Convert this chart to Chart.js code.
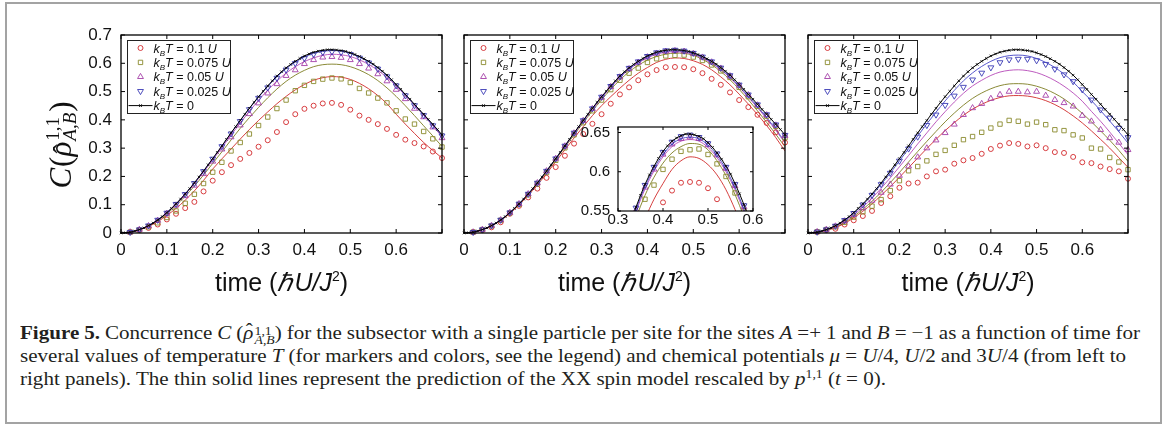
<!DOCTYPE html>
<html>
<head>
<meta charset="utf-8">
<script src="https://cdn.jsdelivr.net/npm/chart.js@4.4.0/dist/chart.umd.min.js"></script>
<style>
  html, body { margin: 0; padding: 0; background: #fff; }
  #page { position: relative; width: 1168px; height: 425px; overflow: hidden; background: #fff; }
  #frame { position: absolute; left: 5px; top: 2px; width: 1157px; height: 422px; box-sizing: border-box; border: 2px solid #a3a3a3; }
  canvas { position: absolute; }
  .cap { position: absolute; left: 20px; white-space: nowrap; font-family: "Liberation Serif", serif; font-size: 18.5px; line-height: 20px; color: #231f20; transform-origin: 0 50%; }
  .ss { display: inline-block; vertical-align: -5px; line-height: 9px; font-size: 12px; margin-left: 1px; }
  .ss span { display: block; }
  .hat { position: relative; display: inline-block; }
  .hat::after { content: 'ˆ'; position: absolute; left: 2px; top: -3px; font-style: normal; }
  sup { font-size: 12px; line-height: 0; }
</style>
</head>
<body>
<div id="page">
  <div id="frame"></div>
  <canvas id="p1" width="450" height="300" style="left:0px;top:0px"></canvas>
  <canvas id="p2" width="340" height="300" style="left:450px;top:0px"></canvas>
  <canvas id="p3" width="378" height="300" style="left:790px;top:0px"></canvas>
  <canvas id="inset" width="200" height="125" style="left:575px;top:110px"></canvas>

  <div class="cap" id="cap1" data-w="1120" style="top:323px"><b>Figure 5.</b> Concurrence <i>C</i> (<i class="hat">ρ</i><span class="ss"><span>1,1</span><span><i>A</i>,<i>B</i></span></span>) for the subsector with a single particle per site for the sites <i>A</i> =+ 1 and <i>B</i> = −1 as a function of time for</div>
  <div class="cap" id="cap2" data-w="1106" style="top:346px">several values of temperature <i>T</i> (for markers and colors, see the legend) and chemical potentials <i>μ</i> = <i>U</i>/4, <i>U</i>/2 and 3<i>U</i>/4 (from left to</div>
  <div class="cap" id="cap3" data-w="866" style="top:369px">right panels). The thin solid lines represent the prediction of the XX spin model rescaled by <i>p</i><sup>1,1</sup> (<i>t</i> = 0).</div>
</div>

<script>
// time of the simulation points (markers)
const times = [0.02, 0.04, 0.06, 0.08, 0.10, 0.12, 0.14, 0.16, 0.18, 0.20,
               0.22, 0.24, 0.26, 0.28, 0.30, 0.32, 0.34, 0.36, 0.38, 0.40,
               0.42, 0.44, 0.46, 0.48, 0.50, 0.52, 0.54, 0.56, 0.58, 0.60,
               0.62, 0.64, 0.66, 0.68, 0.70];
// time of the kBT = 0 curve
const zeroTimes = [0, 0.01, 0.02, 0.03, 0.04, 0.05, 0.06, 0.07, 0.08, 0.09,
                   0.10, 0.11, 0.12, 0.13, 0.14, 0.15, 0.16, 0.17, 0.18, 0.19,
                   0.20, 0.21, 0.22, 0.23, 0.24, 0.25, 0.26, 0.27, 0.28, 0.29,
                   0.30, 0.31, 0.32, 0.33, 0.34, 0.35, 0.36, 0.37, 0.38, 0.39,
                   0.40, 0.41, 0.42, 0.43, 0.44, 0.45, 0.46, 0.47, 0.48, 0.49,
                   0.50, 0.51, 0.52, 0.53, 0.54, 0.55, 0.56, 0.57, 0.58, 0.59,
                   0.60, 0.61, 0.62, 0.63, 0.64, 0.65, 0.66, 0.67, 0.68, 0.69,
                   0.70];
// model lines start at the origin
const fitTimes = [0].concat(times);

// kBT = 0 (same in all three panels)
const zeroT = [0, .001, .003, .007, .012, .018, .026, .035, .046, .058,
               .072, .087, .103, .12, .138, .157, .177, .198, .219, .241,
               .263, .285, .308, .331, .354, .376, .398, .42, .441, .462,
               .482, .501, .52, .538, .555, .57, .584, .596, .607, .617,
               .626, .633, .639, .643, .646, .648, .648, .647, .645, .642,
               .637, .631, .624, .616, .607, .597, .585, .572, .558, .542,
               .525, .508, .49, .473, .455, .437, .42, .402, .384, .366,
               .347];

// panel 1, mu = U/4
const p1Red = [.003, .01, .018, .03, .048, .068, .088, .11, .147, .185, .215, .24, .262, .283, .305, .328, .357, .392, .42, .439, .45, .458, .46, .453, .436, .415, .40, .385, .368, .347, .33, .318, .306, .288, .265];
const p1Olive = [.003, .011, .022, .036, .055, .078, .105, .137, .175, .215, .25, .29, .32, .35, .38, .41, .44, .47, .503, .522, .536, .544, .548, .545, .532, .511, .495, .477, .46, .432, .403, .385, .359, .333, .304];
const p1Purple = [.003, .012, .025, .044, .069, .098, .131, .168, .209, .253, .296, .339, .381, .421, .459, .494, .527, .556, .576, .598, .612, .621, .623, .62, .612, .598, .582, .562, .537, .507, .474, .44, .41, .374, .336];
const p1Blue = [.003, .012, .026, .046, .071, .102, .137, .176, .218, .262, .306, .351, .395, .437, .477, .514, .548, .577, .6, .618, .632, .639, .641, .639, .632, .619, .602, .58, .553, .521, .486, .451, .416, .38, .344];
const p1RedFit = [0, .003, .011, .023, .04, .062, .087, .116, .149, .186, .226, .262, .297, .332, .366, .398, .428, .457, .483, .506, .525, .54, .549, .553, .551, .543, .529, .51, .486, .457, .42, .385, .352, .32, .292, .265];
const p1OliveFit = [0, .003, .012, .025, .044, .068, .097, .13, .166, .205, .246, .287, .329, .37, .408, .444, .478, .509, .536, .558, .575, .588, .595, .597, .595, .588, .576, .56, .539, .513, .483, .45, .415, .379, .343, .306];
const p1PurpleFit = [0, .003, .012, .026, .045, .071, .101, .136, .174, .215, .258, .302, .346, .389, .43, .469, .505, .537, .565, .588, .606, .619, .628, .632, .63, .624, .612, .596, .575, .55, .52, .487, .452, .416, .379, .34];
const p1BlueFit = [0, .003, .012, .026, .046, .072, .103, .138, .177, .219, .263, .307, .353, .397, .44, .48, .518, .552, .581, .604, .622, .635, .642, .645, .643, .635, .622, .605, .583, .556, .523, .488, .453, .417, .381, .344];

// panel 2, mu = U/2
const p2Red = [.003, .01, .02, .038, .068, .096, .126, .157, .195, .233, .273, .316, .35, .386, .42, .457, .49, .515, .54, .561, .576, .586, .587, .586, .579, .565, .545, .524, .497, .47, .445, .418, .389, .356, .32];
const p2Olive = [.003, .012, .025, .045, .071, .101, .135, .173, .214, .257, .301, .347, .39, .432, .47, .507, .54, .565, .583, .603, .616, .626, .628, .629, .622, .61, .594, .573, .55, .515, .482, .448, .413, .377, .337];
const p2Purple = [.003, .012, .026, .046, .072, .103, .138, .177, .219, .263, .307, .353, .397, .439, .479, .517, .551, .58, .603, .622, .635, .642, .644, .642, .634, .621, .604, .582, .555, .522, .488, .452, .417, .381, .344];
const p2Blue = [.003, .012, .026, .046, .072, .103, .138, .177, .219, .263, .308, .354, .398, .44, .481, .519, .554, .583, .606, .625, .638, .645, .647, .644, .636, .623, .606, .584, .557, .524, .489, .454, .419, .383, .346];
const p2RedFit = [0, .003, .012, .025, .044, .069, .099, .133, .17, .21, .252, .294, .336, .376, .415, .45, .482, .512, .54, .565, .585, .603, .614, .619, .617, .609, .596, .577, .552, .524, .491, .456, .419, .38, .337, .29];
const p2OliveFit = [0, .003, .012, .026, .045, .071, .101, .136, .174, .215, .259, .303, .347, .39, .432, .471, .508, .541, .57, .593, .611, .624, .632, .636, .635, .628, .614, .595, .571, .542, .508, .471, .432, .391, .349, .305];
const p2PurpleFit = [0, .003, .012, .026, .046, .071, .102, .137, .176, .218, .262, .306, .351, .395, .437, .477, .515, .549, .578, .601, .619, .632, .639, .641, .639, .631, .618, .6, .577, .549, .516, .48, .443, .404, .363, .318];
const p2BlueFit = [0, .003, .012, .026, .046, .072, .103, .138, .177, .219, .263, .308, .353, .397, .44, .48, .518, .552, .581, .604, .622, .635, .642, .644, .642, .634, .621, .603, .58, .552, .519, .484, .447, .408, .367, .322];

// panel 3, mu = 3U/4
const p3Red = [.004, .01, .015, .03, .045, .06, .078, .106, .13, .16, .175, .178, .2, .218, .224, .245, .257, .265, .28, .297, .309, .318, .315, .306, .31, .3, .286, .283, .269, .25, .247, .235, .226, .218, .192];
const p3Olive = [.004, .012, .022, .038, .056, .075, .095, .118, .15, .185, .22, .235, .255, .278, .292, .31, .33, .341, .356, .371, .385, .398, .395, .385, .392, .383, .365, .362, .347, .336, .30, .297, .267, .251, .224];
const p3Purple = [.004, .012, .024, .042, .064, .088, .115, .143, .172, .203, .236, .268, .3, .328, .354, .384, .418, .442, .457, .475, .489, .5, .5, .498, .5, .486, .471, .46, .448, .415, .395, .365, .336, .32, .294];
const p3Blue = [.004, .012, .025, .045, .07, .1, .134, .172, .212, .255, .298, .34, .381, .418, .452, .485, .516, .542, .566, .585, .603, .613, .615, .615, .61, .597, .58, .56, .536, .507, .471, .436, .407, .371, .338];
const p3RedFit = [0, .002, .009, .019, .034, .054, .077, .103, .133, .164, .197, .231, .265, .299, .331, .362, .39, .416, .438, .455, .469, .479, .485, .486, .484, .478, .468, .454, .436, .414, .389, .361, .331, .3, .266, .232];
const p3OliveFit = [0, .002, .01, .021, .037, .059, .084, .112, .144, .178, .214, .251, .288, .324, .359, .393, .424, .452, .476, .495, .51, .521, .527, .528, .526, .519, .508, .493, .474, .45, .423, .393, .361, .328, .292, .253];
const p3PurpleFit = [0, .003, .011, .023, .041, .064, .092, .123, .158, .195, .234, .274, .315, .354, .393, .429, .463, .494, .52, .54, .557, .569, .575, .577, .574, .567, .555, .539, .519, .495, .466, .43, .395, .357, .317, .277];
const p3BlueFit = [0, .003, .012, .025, .045, .07, .1, .134, .172, .212, .255, .298, .343, .386, .427, .467, .504, .538, .566, .589, .607, .62, .627, .629, .626, .617, .603, .585, .562, .534, .5, .468, .433, .396, .358, .318];

// ticks and labels
const mainTicks = [0, 0.1, 0.2, 0.3, 0.4, 0.5, 0.6, 0.7];
const xTickLabels = ['0', '0.1', '0.2', '0.3', '0.4', '0.5', '0.6', ''];
const yTickLabels = ['0', '0.1', '0.2', '0.3', '0.4', '0.5', '0.6', '0.7'];
const insetXTicks = [0.3, 0.4, 0.5, 0.6];
const insetXLabels = ['0.3', '0.4', '0.5', '0.6'];
const insetYTicks = [0.55, 0.6, 0.65];
const insetYLabels = ['0.55', '0.6', '0.65'];
const legendTemps = ['0.1', '0.075', '0.05', '0.025', '0'];

const SANS = '"Liberation Sans", Arial, Helvetica, sans-serif';
const SERIF = '"Liberation Serif", "DejaVu Serif", serif';
const RED = '#d2292c', OLIVE = '#8a8a2c', PURPLE = '#a53fa8', BLUE = '#3b3bb6';
const RED_L = '#d02a2a', OLIVE_L = '#7d7d20', PURPLE_L = '#b649b8', BLUE_L = '#4444c6';

// marker style for each legend row (red, olive, purple, blue)
const markerStyles = [
    { color: RED, pointStyle: 'circle', radius: 2.5, rotation: 0 },
    { color: OLIVE, pointStyle: 'rect', radius: 3.1, rotation: 0 },
    { color: PURPLE, pointStyle: 'triangle', radius: 3.4, rotation: 0 },
    { color: BLUE, pointStyle: 'triangle', radius: 3.4, rotation: 180 }
];

function xy(xs, ys) {
    return ys.map((v, i) => ({ x: xs[i], y: v }));
}

function markerSet(ys, st, clip) {
    return {
        data: xy(times, ys), showLine: false, clip: clip,
        pointStyle: st.pointStyle, pointRadius: st.radius, pointRotation: st.rotation,
        pointBorderWidth: 0.9, pointBorderColor: st.color, pointBackgroundColor: 'rgba(0,0,0,0)',
        borderColor: st.color, backgroundColor: 'rgba(0,0,0,0)'
    };
}

function fitSet(ys, color) {
    return {
        data: xy(fitTimes, ys), borderColor: color, borderWidth: 0.9, pointRadius: 0,
        cubicInterpolationMode: 'monotone', fill: false
    };
}

function zeroSet(clip) {
    return {
        data: xy(zeroTimes, zeroT), borderColor: '#000', borderWidth: 1, clip: clip,
        pointStyle: 'crossRot', pointRadius: 1.8, pointBorderWidth: 0.8,
        pointBorderColor: '#000', pointBackgroundColor: 'rgba(0,0,0,0)', fill: false
    };
}

function panelSets(m, f, clip) {
    // m: markers [red, olive, purple, blue], f: model lines in the same order
    return [
        zeroSet(clip),
        markerSet(m[3], markerStyles[3], clip),
        markerSet(m[2], markerStyles[2], clip),
        markerSet(m[1], markerStyles[1], clip),
        markerSet(m[0], markerStyles[0], clip),
        fitSet(f[3], BLUE_L),
        fitSet(f[2], PURPLE_L),
        fitSet(f[1], OLIVE_L),
        fitSet(f[0], RED_L)
    ];
}

// draw a row of text pieces with different fonts
function drawParts(c, parts, cx, baseY, alignLeft) {
    let w = 0;
    parts.forEach(q => {
        c.font = q.f;
        q.w = q.adv === 0 ? 0 : c.measureText(q.t).width + (q.gap || 0);
        w += q.w;
    });
    let x = alignLeft ? cx : cx - w / 2;
    c.textAlign = 'left';
    c.textBaseline = 'alphabetic';
    parts.forEach(q => {
        c.font = q.f;
        c.fillText(q.t, x + (q.dx || 0), baseY + (q.dy || 0));
        x += q.w;
    });
}

function drawFrame(chart, p) {
    const a = chart.chartArea, c = chart.ctx;
    const xs = chart.scales.x, ys = chart.scales.y;
    c.save();
    c.strokeStyle = '#000';
    c.lineWidth = p.frameWidth;
    c.strokeRect(a.left, a.top, a.right - a.left, a.bottom - a.top);
    c.lineWidth = 1;
    c.beginPath();
    p.xTicks.forEach(v => {
        const x = xs.getPixelForValue(v);
        c.moveTo(x, a.bottom); c.lineTo(x, a.bottom - p.tick);
        c.moveTo(x, a.top); c.lineTo(x, a.top + p.tick);
    });
    p.yTicks.forEach(v => {
        const y = ys.getPixelForValue(v);
        c.moveTo(a.left, y); c.lineTo(a.left + p.tick, y);
        c.moveTo(a.right, y); c.lineTo(a.right - p.tick, y);
    });
    c.stroke();
    c.restore();
}

function drawXTitle(chart) {
    const c = chart.ctx, a = chart.chartArea;
    c.save();
    c.fillStyle = '#111';
    drawParts(c, [
        { t: 'time (', f: '25px ' + SANS },
        { t: 'ℏ', f: 'italic 25px ' + SANS, gap: 2 },
        { t: 'U', f: 'italic 25px ' + SANS },
        { t: '/', f: 'italic 25px ' + SANS },
        { t: 'J', f: 'italic 25px ' + SANS },
        { t: '2', f: '14px ' + SANS, dy: -10 },
        { t: ')', f: '25px ' + SANS }
    ], (a.left + a.right) / 2, 291);
    c.restore();
}

function drawYTitle(c) {
    c.save();
    c.translate(71, 145);
    c.rotate(-Math.PI / 2);
    c.fillStyle = '#111';
    drawParts(c, [
        { t: 'C', f: 'italic 31px ' + SERIF, gap: 1 },
        { t: '(', f: '31px ' + SERIF },
        { t: 'ˆ', f: '28px ' + SERIF, dx: 3, dy: 1, adv: 0 },
        { t: 'ρ', f: 'italic 31px ' + SERIF, gap: 1 },
        { t: '1,1', f: '19px ' + SERIF, dy: -12, adv: 0 },
        { t: 'A,B', f: 'italic 19px ' + SERIF, dy: 5, gap: 1 },
        { t: ')', f: '31px ' + SERIF }
    ], 0, 0);
    c.restore();
}

function drawLegend(chart) {
    const c = chart.ctx, a = chart.chartArea;
    const bx = Math.round(a.left + 6) + 0.5, by = 40.5, bw = 103, bh = 73;
    c.save();
    c.fillStyle = '#fff';
    c.fillRect(bx, by, bw, bh);
    c.strokeStyle = '#222';
    c.lineWidth = 1;
    c.strokeRect(bx, by, bw, bh);
    legendTemps.forEach((temp, i) => {
        const y = by + 7.5 + i * 14.4;
        const mx = bx + 13;
        if (i < 4) {
            const st = markerStyles[i];
            c.strokeStyle = st.color;
            c.fillStyle = 'rgba(0,0,0,0)';
            c.lineWidth = 0.9;
            Chart.helpers.drawPoint(c, { pointStyle: st.pointStyle, radius: st.radius, rotation: st.rotation, borderWidth: 0.9 }, mx, y);
        } else {
            c.strokeStyle = '#000';
            c.lineWidth = 1;
            c.beginPath();
            c.moveTo(bx + 1, y); c.lineTo(bx + 25, y);
            c.stroke();
            Chart.helpers.drawPoint(c, { pointStyle: 'crossRot', radius: 1.8, rotation: 0, borderWidth: 0.8 }, mx, y);
        }
        c.fillStyle = '#111';
        const parts = [
            { t: 'k', f: 'italic 12.5px ' + SANS },
            { t: 'B', f: 'italic 8px ' + SANS, dy: 3 },
            { t: 'T', f: 'italic 12.5px ' + SANS },
            { t: ' = ' + temp + (i < 4 ? ' ' : ''), f: '12.5px ' + SANS }
        ];
        if (i < 4) parts.push({ t: 'U', f: 'italic 12.5px ' + SANS });
        drawParts(c, parts, bx + 26, y + 4.5, true);
    });
    c.restore();
}

function makeChart(id, p) {
    const decor = {
        id: 'decor',
        beforeDatasetsDraw(chart) {
            if (p.inset) {
                const a = chart.chartArea;
                chart.ctx.save();
                chart.ctx.fillStyle = '#fff';
                chart.ctx.fillRect(a.left, a.top, a.right - a.left, a.bottom - a.top);
                chart.ctx.restore();
            }
        },
        afterDraw(chart) {
            drawFrame(chart, p);
            if (p.xTitle) drawXTitle(chart);
            if (p.yTitle) drawYTitle(chart.ctx);
            if (p.legend) drawLegend(chart);
        }
    };
    return new Chart(document.getElementById(id), {
        type: 'line',
        data: { datasets: p.sets },
        options: {
            responsive: false,
            animation: false,
            devicePixelRatio: 1,
            layout: { padding: { top: p.padTop, right: p.padRight, bottom: 0, left: 0 } },
            plugins: { legend: { display: false }, tooltip: { enabled: false } },
            scales: {
                x: {
                    type: 'linear', min: p.xMin, max: p.xMax,
                    grid: { display: false }, border: { display: false },
                    afterBuildTicks: s => { s.ticks = p.xTicks.map(v => ({ value: v })); },
                    afterFit: s => { s.height = p.xHeight; },
                    ticks: {
                        autoSkip: false, maxRotation: 0, padding: p.xPad, color: '#111',
                        font: { family: SANS, size: p.fs },
                        callback: (v, i) => p.xLabels[i]
                    }
                },
                y: {
                    type: 'linear', min: p.yMin, max: p.yMax,
                    grid: { display: false }, border: { display: false },
                    afterBuildTicks: s => { s.ticks = p.yTicks.map(v => ({ value: v })); },
                    afterFit: s => { s.width = p.yWidth; },
                    ticks: {
                        display: p.yLabels !== null, autoSkip: false, padding: p.yPad, color: '#111',
                        font: { family: SANS, size: p.fs },
                        callback: (v, i) => (p.yLabels ? p.yLabels[i] : '')
                    }
                }
            }
        },
        plugins: [decor]
    });
}

function mainPanel(sets, yWidth, padRight, withYLabels, withYTitle) {
    return {
        sets: sets, padTop: 35, padRight: padRight, yWidth: yWidth, xHeight: 67,
        xMin: 0, xMax: 0.7, yMin: 0, yMax: 0.7,
        xTicks: mainTicks, xLabels: xTickLabels, yTicks: mainTicks,
        yLabels: withYLabels ? yTickLabels : null,
        xPad: -1, yPad: 1, fs: 17, tick: 4, frameWidth: 1.3,
        xTitle: true, yTitle: withYTitle, legend: true
    };
}

document.addEventListener('DOMContentLoaded', function() {
    makeChart('p1', mainPanel(panelSets([p1Red, p1Olive, p1Purple, p1Blue], [p1RedFit, p1OliveFit, p1PurpleFit, p1BlueFit], false), 121, 8, true, true));
    makeChart('p2', mainPanel(panelSets([p2Red, p2Olive, p2Purple, p2Blue], [p2RedFit, p2OliveFit, p2PurpleFit, p2BlueFit], false), 14, 5, false, false));
    makeChart('p3', mainPanel(panelSets([p3Red, p3Olive, p3Purple, p3Blue], [p3RedFit, p3OliveFit, p3PurpleFit, p3BlueFit], false), 18, 40, false, false));

    // zoomed inset of the middle panel
    makeChart('inset', {
        sets: panelSets([p2Red, p2Olive, p2Purple, p2Blue], [p2RedFit, p2OliveFit, p2PurpleFit, p2BlueFit], undefined),
        padTop: 17, padRight: 22, yWidth: 43, xHeight: 24,
        xMin: 0.3, xMax: 0.6, yMin: 0.55, yMax: 0.657,
        xTicks: insetXTicks, xLabels: insetXLabels, yTicks: insetYTicks, yLabels: insetYLabels,
        xPad: -8, yPad: 0, fs: 15, tick: 3, frameWidth: 1.2,
        xTitle: false, yTitle: false, legend: false, inset: true
    });

    // caption: one horizontal squeeze for all lines (from the ragged last line),
    // then word spacing to justify the first two lines
    const squeeze = 866 / document.getElementById('cap3').getBoundingClientRect().width;
    document.querySelectorAll('.cap').forEach(el => {
        const target = +el.getAttribute('data-w') / squeeze;
        const w = el.getBoundingClientRect().width;
        const spaces = (el.textContent.match(/ /g) || []).length;
        if (el.id !== 'cap3') el.style.wordSpacing = ((target - w) / spaces) + 'px';
        el.style.transform = 'scaleX(' + squeeze + ')';
    });
});
</script>
</body>
</html>
